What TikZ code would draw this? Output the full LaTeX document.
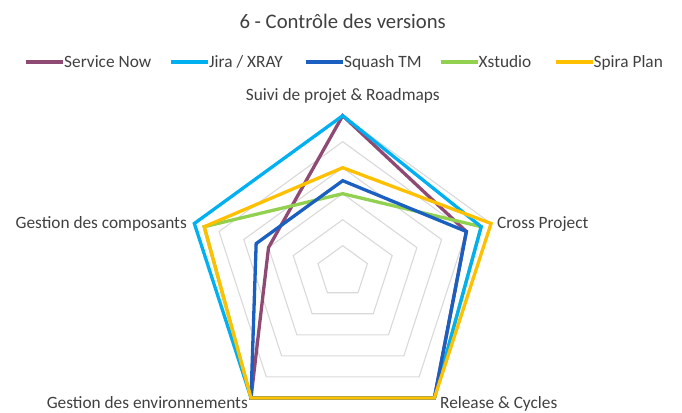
\documentclass[tikz,border=0pt]{standalone}
\usepackage{fontspec}
\setmainfont{Carlito}
\definecolor{servicenow}{HTML}{8E4A72}
\definecolor{jira}{HTML}{00B0F0}
\definecolor{squash}{HTML}{1B5FC1}
\definecolor{xstudio}{HTML}{92D050}
\definecolor{spira}{HTML}{FFC000}
\definecolor{gridgray}{HTML}{D9D9D9}
\definecolor{textgray}{HTML}{404040}
\begin{document}
\begin{tikzpicture}
[x=1pt,y=1pt,
 gridline/.style={draw=gridgray,line width=1.1pt},
 serie/.style={line width=3.3pt},
 axislabel/.style={font=\fontsize{17.3}{20}\selectfont,text=textgray,inner sep=0pt},
 legendtext/.style={axislabel,anchor=base west,text height=11.1pt,text depth=0pt}]
\useasboundingbox (0,0) rectangle (682,412);
\coordinate (c) at (342.7,140.3);
%% title and legend
\node[font=\fontsize{20.7}{24}\selectfont,text=textgray,anchor=base,inner sep=0pt] (title) at (342.7,383.7) {6 - Contrôle des versions};
\foreach \col/\x/\name in {servicenow/64/Service Now, jira/209/{Jira / XRAY}, squash/344/Squash TM, xstudio/478.5/Xstudio, spira/593.5/Spira Plan}
{
  \node[legendtext] (leg-\col) at (\x,344.5) {\name};
  \draw[\col,line width=3.3pt] ([xshift=-38pt]leg-\col.west) -- ([xshift=-1pt]leg-\col.west);
}
%% the grid
\foreach \r in {1,...,6}
{
  \draw[gridline,shift={(c)}] (90:26*\r) -- (18:26*\r) -- (-54:26*\r) -- (-126:26*\r) -- (162:26*\r) -- cycle;
}
%% the series
\foreach \col/\a/\b/\c/\d/\e in {servicenow/6/5/6/6/3, xstudio/3/5.6/6/6/5.6, jira/6/5.6/6/6/6, squash/3.5/5/6/6/3.5, spira/4/6/6/6/5.6}
{
  \draw[serie,\col,shift={(c)}] (90:26*\a) -- (18:26*\b) -- (-54:26*\c) -- (-126:26*\d) -- (162:26*\e) -- cycle;
}
%% axis labels
\node[axislabel,anchor=base] (suivi) at (342.8,311.3) {Suivi de projet \& Roadmaps};
\node[axislabel,anchor=base west] (cross) at (497,183.5) {Cross Project};
\node[axislabel,anchor=base west] (release) at (440,4) {Release \& Cycles};
\node[axislabel,anchor=base east] (env) at (248,4) {Gestion des environnements};
\node[axislabel,anchor=base east] (comp) at (187,183.5) {Gestion des composants};
\end{tikzpicture}
\end{document}
